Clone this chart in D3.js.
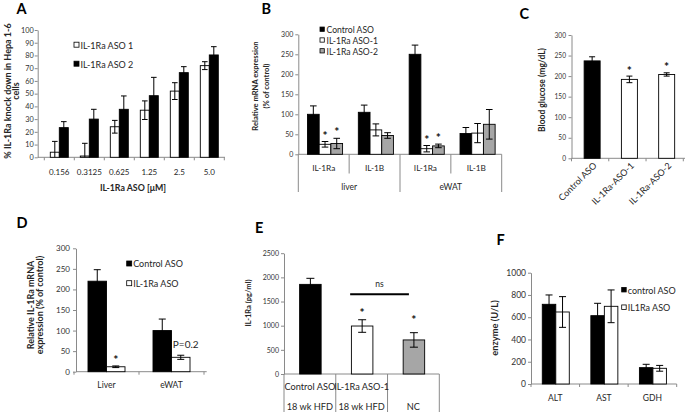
<!DOCTYPE html>
<html><head><meta charset="utf-8">
<script src="https://cdn.jsdelivr.net/npm/d3@7"></script>
<style>
body{margin:0;background:#fff}
svg{display:block}
</style>
</head><body>
<svg id="c" width="689" height="416"></svg>
<script>
// ---------- DATA ----------
// Panel A
const aCategories = ["0.156","0.3125","0.625","1.25","2.5","5.0"];
const aSeriesNames = ["IL-1Ra ASO 1","IL-1Ra ASO 2"];
const aASO1 = [4, 1, 24, 37, 52, 72];
const aASO1Err = [8.5, 10, 5, 7.3, 6.6, 3.1];
const aASO2 = [23.3, 30, 37.7, 48.4, 66.5, 80.4];
const aASO2Err = [4.7, 7.7, 10.5, 14.4, 4.7, 6.5];
const aTicks = [0,10,20,30,40,50,60,70,80,90,100];

// Panel B
const bCategories = ["IL-1Ra","IL-1B","IL-1Ra","IL-1B"];
const bGroups = ["liver","eWAT"];
const bSeriesNames = ["Control ASO","IL-1Ra ASO-1","IL-1Ra ASO-2"];
const bControl = [100, 105, 250, 52];
const bControlErr = [21, 18, 23, 15];
const bASO1 = [25, 61, 14, 53];
const bASO1Err = [7, 15, 8, 24];
const bASO2 = [27, 47, 21, 75];
const bASO2Err = [13, 7, 4.5, 37];
const bStars = [[false,false,false,false],[true,false,true,false],[true,false,true,false]];
const bTicks = [0,50,100,150,200,250,300];

// Panel C
const cCategories = ["Control ASO","IL-1Ra-ASO-1","IL-1Ra-ASO-2"];
const cValues = [237, 192, 204];
const cErr = [10, 8, 4];
const cStars = [false, true, true];
const cTicks = [0,50,100,150,200,250,300];

// Panel D
const dCategories = ["Liver","eWAT"];
const dSeriesNames = ["Control ASO","IL-1Ra ASO"];
const dControl = [220, 100];
const dControlErr = [28, 28];
const dASO = [12, 35];
const dASOErr = [2, 5];
const dTicks = [0,50,100,150,200,250,300];

// Panel E
const eCategories = ["Control ASO","IL-1Ra ASO-1",""];
const eSubCategories = ["18 wk HFD","18 wk HFD","NC"];
const eValues = [1855, 993, 705];
const eErr = [125, 130, 150];
const eStars = [false, true, true];
const eNsLevel = 1650;
const eTicks = [0,500,1000,1500,2000,2500];

// Panel F
const fCategories = ["ALT","AST","GDH"];
const fSeriesNames = ["control ASO","IL1Ra ASO"];
const fControl = [716, 614, 147];
const fControlErr = [84, 111, 30];
const fASO = [647, 698, 141];
const fASOErr = [138, 147, 26];
const fTicks = [0,200,400,600,800,1000];

// ---------- DRAWING ----------
const svg = d3.select("#c");
const FONT = "Lato, 'Open Sans', sans-serif";
const AXIS = "#8a8a8a";
const GRAY = "#a6a6a6";

function txt(g, x, y, s, fs, opts={}) {
  const t = g.append("text").attr("x", x).attr("y", y).attr("dy", opts.dy ?? "0.35em")
    .attr("font-family", FONT).attr("font-size", fs).attr("fill", opts.fill || "#262626")
    .attr("text-anchor", opts.anchor || "middle").text(s);
  if (opts.bold) t.attr("font-weight", "bold");
  if (opts.rotate !== undefined) t.attr("transform", `rotate(${opts.rotate},${x},${y})`);
  return t;
}

function makePanel(o) {
  const g = svg.append("g");
  const y = d3.scaleLinear().domain([0, o.yMax]).range([o.y0, o.yTop]);
  const x = d3.scaleBand().domain(d3.range(o.n)).range(o.xRange);
  const ga = g.append("g").attr("transform", `translate(${o.axX},0)`)
    .call(d3.axisLeft(y).tickValues(o.ticks).tickFormat(d3.format("d")).tickSize(3).tickSizeOuter(0).tickPadding(o.pad));
  ga.select(".domain").attr("stroke", AXIS);
  ga.selectAll(".tick line").attr("stroke", AXIS);
  ga.selectAll(".tick text").attr("font-family", FONT).attr("font-size", o.tickFs).attr("fill", "#333");
  g.append("line").attr("x1", o.axX).attr("x2", o.xEnd).attr("y1", y(0)).attr("y2", y(0)).attr("stroke", AXIS);
  const ns = o.series.length;
  const center = (si, i) => x(i) + x.bandwidth() / 2 + (o.shift || 0) + (si - (ns - 1) / 2) * o.bw;
  o.series.forEach((s, si) => {
    const fill = (i) => Array.isArray(s.fill) ? s.fill[i] : s.fill;
    g.selectAll(null).data(s.values).enter().append("rect")
      .attr("x", (d, i) => center(si, i) - o.bw / 2).attr("width", o.bw)
      .attr("y", d => y(d)).attr("height", d => y(0) - y(d))
      .attr("fill", (d, i) => fill(i)).attr("stroke", "#000").attr("stroke-width", 0.9);
  });
  o.series.forEach((s, si) => {
    s.values.forEach((v, i) => {
      const e = s.errs[i];
      const cx = center(si, i);
      const lo = y(Math.max(0, v - e)), hi = y(v + e);
      g.append("line").attr("x1", cx).attr("x2", cx).attr("y1", lo).attr("y2", hi).attr("stroke", "#000").attr("stroke-width", 1);
      g.append("line").attr("x1", cx - o.cap).attr("x2", cx + o.cap).attr("y1", hi).attr("y2", hi).attr("stroke", "#000").attr("stroke-width", 1);
      if (v - e > 0)
        g.append("line").attr("x1", cx - o.cap).attr("x2", cx + o.cap).attr("y1", lo).attr("y2", lo).attr("stroke", "#000").attr("stroke-width", 1);
    });
  });
  return {g, x, y, center};
}

function star(g, x, yTop, off) {
  txt(g, x, yTop - off + 7, "*", 12, {dy: "0", bold: true, fill: "#111"});
}

function legend(g, x, yc, size, fill, label, fs, gap) {
  g.append("rect").attr("x", x).attr("y", yc - size / 2 - 0.8).attr("width", size).attr("height", size)
    .attr("fill", fill).attr("stroke", "#000").attr("stroke-width", 0.8);
  txt(g, x + size + (gap || 1.5), yc, label, fs, {anchor: "start"});
}

function letter(x, y, s) {
  svg.append("text").attr("x", x).attr("y", y).attr("font-family", FONT).attr("font-weight", "bold")
    .attr("font-size", 14.5).attr("fill", "#000").text(s);
}

// ----- Panel A -----
{
  const p = makePanel({n: aCategories.length, axX: 37.7, y0: 157.3, yTop: 30, yMax: 100, ticks: aTicks, pad: 1, tickFs: 7.3,
    xRange: [44.3, 224.3], xEnd: 225, bw: 9, shift: 0, cap: 2.8,
    series: [{values: aASO1, errs: aASO1Err, fill: "#fff"}, {values: aASO2, errs: aASO2Err, fill: "#000"}]});
  const {g, x, y} = p;
  d3.range(aCategories.length + 1).forEach(i => {
    const xx = i < aCategories.length ? x(i) : x.range()[1];
    g.append("line").attr("x1", xx).attr("x2", xx).attr("y1", y(0)).attr("y2", y(0) + 3).attr("stroke", AXIS);
  });
  aCategories.forEach((c, i) => txt(g, x(i) + x.bandwidth() / 2, 172.5, c, 8));
  txt(g, 133, 187.5, "IL-1Ra ASO [\u03bcM]", 8.8, {bold: true});
  txt(g, 7.5, 91, "% IL-1Ra knock down in Hepa 1-6", 9, {bold: true, rotate: -90});
  txt(g, 16, 91, "cells", 9, {bold: true, rotate: -90});
  legend(g, 74, 45.5, 5, "#fff", aSeriesNames[0], 9);
  legend(g, 74, 64.5, 5, "#000", aSeriesNames[1], 9);
  letter(16.5, 13.5, "A");
}

// ----- Panel B -----
{
  const p = makePanel({n: bCategories.length, axX: 298.3, y0: 154.3, yTop: 34.3, yMax: 300, ticks: bTicks, pad: 2, tickFs: 7,
    xRange: [298.3, 501.7], xEnd: 501.7, bw: 11.7, shift: 1.3, cap: 3.3,
    series: [{values: bControl, errs: bControlErr, fill: "#000"}, {values: bASO1, errs: bASO1Err, fill: "#fff"},
             {values: bASO2, errs: bASO2Err, fill: GRAY}]});
  const {g, x, y, center} = p;
  const sers = [[bControl, bControlErr], [bASO1, bASO1Err], [bASO2, bASO2Err]];
  bStars.forEach((row, si) => row.forEach((s, i) => {
    if (s) star(g, center(si, i), y(sers[si][0][i] + sers[si][1][i]), 9);
  }));
  d3.range(bCategories.length + 1).forEach(i => {
    const xx = i < bCategories.length ? x(i) : x.range()[1];
    g.append("line").attr("x1", xx).attr("x2", xx).attr("y1", y(0)).attr("y2", i % 2 === 0 ? 192 : 173.5).attr("stroke", AXIS);
  });
  bCategories.forEach((c, i) => txt(g, x(i) + x.bandwidth() / 2, 168.3, c, 8.3));
  bGroups.forEach((c, gi) => txt(g, x(gi * 2) + x.bandwidth(), 186.7, c, 8.5));
  txt(g, 255, 86, "Relative mRNA expression", 7.6, {bold: true, rotate: -90});
  txt(g, 266.5, 86, "(% of control)", 7.6, {bold: true, rotate: -90});
  legend(g, 320, 30, 4.3, "#000", bSeriesNames[0], 8.6, 2.2);
  legend(g, 320, 40.8, 4.3, "#fff", bSeriesNames[1], 8.6, 2.2);
  legend(g, 320, 51.6, 4.3, GRAY, bSeriesNames[2], 8.6, 2.2);
  letter(261.5, 14, "B");
}

// ----- Panel C -----
{
  const p = makePanel({n: cCategories.length, axX: 571.5, y0: 158.3, yTop: 35, yMax: 300, ticks: cTicks, pad: 2.5, tickFs: 6.6,
    xRange: [571.5, 683.3], xEnd: 685, bw: 16, shift: 2, cap: 3,
    series: [{values: cValues, errs: cErr, fill: ["#000", "#fff", "#fff"]}]});
  const {g, x, y, center} = p;
  cStars.forEach((s, i) => { if (s) star(g, center(0, i), y(cValues[i] + cErr[i]), 8.5); });
  d3.range(cCategories.length + 1).forEach(i => {
    const xx = i < cCategories.length ? x(i) : x.range()[1];
    g.append("line").attr("x1", xx).attr("x2", xx).attr("y1", y(0)).attr("y2", y(0) + 3).attr("stroke", AXIS);
  });
  cCategories.forEach((c, i) => txt(g, x(i) + x.bandwidth() / 2 + 5, 164, c, 9, {anchor: "end", rotate: -45}));
  txt(g, 541.7, 90, "Blood glucose (mg/dL)", 8.5, {bold: true, rotate: -90});
  letter(519.5, 19, "C");
}

// ----- Panel D -----
{
  const p = makePanel({n: dCategories.length, axX: 76, y0: 371.7, yTop: 248.3, yMax: 300, ticks: dTicks, pad: 3, tickFs: 8,
    xRange: [74, 204], xEnd: 206.7, bw: 18.5, shift: 0, cap: 3.5,
    series: [{values: dControl, errs: dControlErr, fill: "#000"}, {values: dASO, errs: dASOErr, fill: "#fff"}]});
  const {g, x, y, center} = p;
  star(g, center(1, 0), y(dASO[0] + dASOErr[0]), 9);
  txt(g, center(1, 1) + 5, y(dControl[1]) + 14, "P=0.2", 10);
  d3.range(dCategories.length + 1).forEach(i => {
    const xx = i < dCategories.length ? x(i) : x.range()[1];
    g.append("line").attr("x1", xx).attr("x2", xx).attr("y1", y(0)).attr("y2", y(0) + 3).attr("stroke", AXIS);
  });
  dCategories.forEach((c, i) => txt(g, x(i) + x.bandwidth() / 2, 385, c, 8.5));
  txt(g, 30.8, 305, "Relative IL-1Ra mRNA", 9, {bold: true, rotate: -90});
  txt(g, 40.3, 305, "expression (% of control)", 9, {bold: true, rotate: -90});
  legend(g, 126.7, 264.3, 5, "#000", dSeriesNames[0], 9);
  legend(g, 126.7, 284, 5, "#fff", dSeriesNames[1], 9);
  letter(16.5, 228.3, "D");
}

// ----- Panel E -----
{
  const p = makePanel({n: eCategories.length, axX: 284, y0: 374, yTop: 253.2, yMax: 2500, ticks: eTicks, pad: 2, tickFs: 7,
    xRange: [284, 439.3], xEnd: 439.3, bw: 21.5, shift: 0.5, cap: 4,
    series: [{values: eValues, errs: eErr, fill: ["#000", "#fff", GRAY]}]});
  const {g, x, y, center} = p;
  eStars.forEach((s, i) => { if (s) star(g, center(0, i), y(eValues[i] + eErr[i]), i === 2 ? 16 : 9.5); });
  const nsX1 = center(0, 1) - 12, nsX2 = center(0, 2) - 5;
  g.append("line").attr("x1", nsX1).attr("x2", nsX2).attr("y1", y(eNsLevel)).attr("y2", y(eNsLevel)).attr("stroke", "#000").attr("stroke-width", 1.8);
  txt(g, (nsX1 + nsX2) / 2, y(eNsLevel) - 10, "ns", 8.5);
  d3.range(eCategories.length + 1).forEach(i => {
    const xx = i < eCategories.length ? x(i) : x.range()[1];
    g.append("line").attr("x1", xx).attr("x2", xx).attr("y1", y(0)).attr("y2", 412).attr("stroke", AXIS);
  });
  eCategories.forEach((c, i) => txt(g, x(i) + x.bandwidth() / 2, 386.7, c, 9.2));
  eSubCategories.forEach((c, i) => txt(g, x(i) + x.bandwidth() / 2, 406.5, c, 9.2));
  txt(g, 248.3, 303, "IL-1Ra (pg/ml)", 7.5, {bold: true, rotate: -90});
  letter(255, 233.3, "E");
}

// ----- Panel F -----
{
  const p = makePanel({n: fCategories.length, axX: 531, y0: 384, yTop: 272.7, yMax: 1000, ticks: fTicks, pad: 2, tickFs: 8.5,
    xRange: [531, 676.7], xEnd: 676.7, bw: 13.5, shift: 0.5, cap: 3.5,
    series: [{values: fControl, errs: fControlErr, fill: "#000"}, {values: fASO, errs: fASOErr, fill: "#fff"}]});
  const {g, x, y} = p;
  d3.range(fCategories.length + 1).forEach(i => {
    const xx = i < fCategories.length ? x(i) : x.range()[1];
    g.append("line").attr("x1", xx).attr("x2", xx).attr("y1", y(0)).attr("y2", y(0) + 3).attr("stroke", AXIS);
  });
  fCategories.forEach((c, i) => txt(g, x(i) + x.bandwidth() / 2, 398.3, c, 8.5));
  txt(g, 495, 328, "enzyme (U/L)", 9.3, {bold: true, rotate: -90});
  legend(g, 621.7, 290.5, 4.5, "#000", fSeriesNames[0], 9);
  legend(g, 621.7, 308, 4.5, "#fff", fSeriesNames[1], 9);
  letter(496.5, 245, "F");
}
</script>
</body></html>
